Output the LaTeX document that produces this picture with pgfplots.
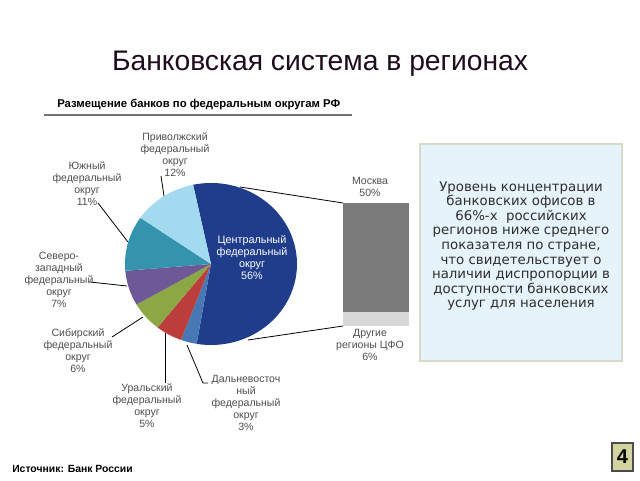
\documentclass[border=0pt]{standalone}
\usepackage{fontspec}
\setmainfont{Liberation Sans}
\newfontfamily\boxfont{DejaVu Sans}
\usepackage{pgfplots}
\pgfplotsset{compat=1.18}

\definecolor{cCen}{RGB}{31,61,138}
\definecolor{cDV}{RGB}{72,120,180}
\definecolor{cUr}{RGB}{188,62,60}
\definecolor{cSib}{RGB}{140,168,68}
\definecolor{cSZ}{RGB}{110,88,150}
\definecolor{cYug}{RGB}{52,148,174}
\definecolor{cPriv}{RGB}{164,218,240}
\definecolor{cMos}{RGB}{122,122,122}
\definecolor{cOth}{RGB}{216,216,216}
\definecolor{lbl}{RGB}{78,78,78}
\definecolor{boxfill}{RGB}{230,243,251}
\definecolor{boxedge}{RGB}{214,218,200}
\definecolor{numfill}{RGB}{212,212,160}
\definecolor{ttl}{RGB}{30,12,30}

\begin{document}
\begin{tikzpicture}
\begin{axis}[
    width=480pt, height=360pt, scale only axis,
    xmin=0, xmax=640, ymin=0, ymax=480,
    hide axis, clip=false,
]
% frame of the slide
\fill[white] (axis cs:0,0) rectangle (axis cs:640,480);

% pie: shares in percent, clockwise from 102 degrees
\def\piestart{102}
\foreach \p/\c in {56/cCen,3/cDV,5/cUr,6/cSib,7/cSZ,11/cYug,12/cPriv} {
    \pgfmathsetmacro\a{\piestart}
    \pgfmathsetmacro\b{\piestart-3.6*\p}
    \pgfmathsetmacro\sx{211+86*cos(\a)}
    \pgfmathsetmacro\sy{216+81*sin(\a)}
    \edef\temp{\noexpand\fill[\c] (axis cs:211,216) -- (axis cs:\sx,\sy)
        arc[start angle=\a, end angle=\b, x radius=64.5pt, y radius=60.75pt] -- cycle;}
    \temp
    \xdef\piestart{\b}
}

% bar of the central district: Moscow 50, other regions 6
\addplot[fill=cMos, draw=none] coordinates {(343,168) (409,168) (409,277) (343,277)} -- cycle;
\addplot[fill=cOth, draw=none] coordinates {(343,154) (409,154) (409,168) (343,168)} -- cycle;

% connectors
\draw[black, line width=0.6pt] (axis cs:240,293) -- (axis cs:343,277);
\draw[black, line width=0.6pt] (axis cs:248,140) -- (axis cs:343,154);

% leader lines
\draw[black, line width=0.6pt] (axis cs:161,304) -- (axis cs:164,284);
\draw[black, line width=0.6pt] (axis cs:98,277) -- (axis cs:128,238);
\draw[black, line width=0.6pt] (axis cs:90,198) -- (axis cs:127,194);
\draw[black, line width=0.6pt] (axis cs:112,143) -- (axis cs:143,163);
\draw[black, line width=0.6pt] (axis cs:165,97) -- (axis cs:165,147);
\draw[black, line width=0.6pt] (axis cs:208,97) -- (axis cs:203,97) -- (axis cs:187,135);

% labels
\begin{scope}[every node/.style={align=center, text=lbl, font=\fontsize{7.9}{9}\selectfont, inner sep=0pt}]
\node at (axis cs:175,325) {Приволжский\\федеральный\\округ\\12\%};
\node at (axis cs:87,296) {Южный\\федеральный\\округ\\11\%};
\node at (axis cs:59,200) {Северо-\\западный\\федеральный\\округ\\7\%};
\node at (axis cs:78,129) {Сибирский\\федеральный\\округ\\6\%};
\node at (axis cs:147,74) {Уральский\\федеральный\\округ\\5\%};
\node at (axis cs:246,77) {Дальневосточ\\ный\\федеральный\\округ\\3\%};
\node at (axis cs:370,293) {Москва\\50\%};
\node at (axis cs:370,135) {Другие\\регионы ЦФО\\6\%};
\end{scope}
\node[align=center, text=white, font=\fontsize{8.1}{9}\selectfont, inner sep=0pt]
    at (axis cs:252,222) {Центральный\\федеральный\\округ\\56\%};

% titles
\node[anchor=base, text=ttl, font=\fontsize{21.2}{25}\selectfont, inner sep=0pt]
    at (axis cs:320,410) {Банковская система в регионах};
\node[anchor=base west, font=\bfseries\fontsize{8.5}{10}\selectfont, inner sep=0pt]
    at (axis cs:57,373) {Размещение банков по федеральным округам РФ};
\draw[black!55, line width=1.5pt] (axis cs:44,365) -- (axis cs:352,365);

% text box
\draw[fill=boxfill, draw=boxedge, line width=1pt] (axis cs:420,119) rectangle (axis cs:622,336);
\node[align=center, text=black!82, font=\boxfont\fontsize{10}{10.95}\selectfont, inner sep=0pt]
    at (axis cs:521,234) {Уровень концентрации\\банковских офисов в\\66\%-х\ \ российских\\регионов ниже среднего\\показателя по стране,\\что свидетельствует о\\наличии диспропорции в\\доступности банковских\\услуг для населения};

% source and page number
\node[anchor=base west, font=\bfseries\fontsize{7.8}{9}\selectfont, inner sep=0pt]
    at (axis cs:12,8) {Источник: Банк России};
\draw[fill=numfill, draw=black!70, line width=0.8pt] (axis cs:612,9) rectangle (axis cs:633,37);
\node[font=\bfseries\fontsize{15}{18}\selectfont, inner sep=0pt] at (axis cs:622.5,23) {4};
\end{axis}
\end{tikzpicture}
\end{document}
